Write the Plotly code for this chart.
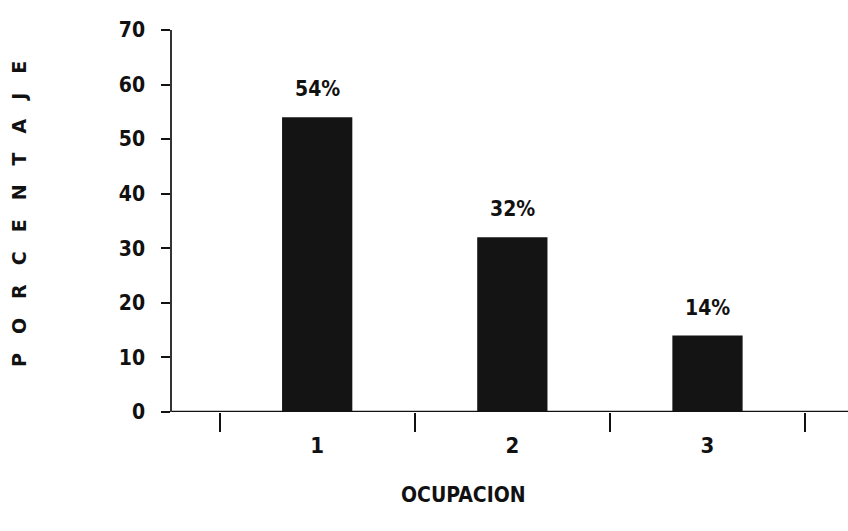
import plotly.graph_objects as go

categories = [1, 2, 3]
category_labels = ["1", "2", "3"]
values = [54, 32, 14]
value_labels = ["54%", "32%", "14%"]
y_ticks = [0, 10, 20, 30, 40, 50, 60, 70]
sep_ticks = [0.5, 1.5, 2.5, 3.5]

FONT = "DejaVu Sans Condensed, Liberation Sans Narrow, DejaVu Sans, sans-serif"

fig = go.Figure()
fig.add_trace(go.Bar(
    x=categories, y=values, width=0.36,
    marker=dict(color="#141414", line=dict(width=0)),
    hoverinfo="skip",
))

annotations = [
    dict(x=c, y=v, xref="x", yref="y", text=t, showarrow=False, yshift=28,
         xanchor="center", yanchor="middle",
         font=dict(family=FONT, size=21, color="#111", weight="bold"))
    for c, v, t in zip(categories, values, value_labels)
]
annotations += [
    dict(text="OCUPACION", xref="paper", yref="paper",
         x=(463 - 172) / 676, y=-(495 - 412) / 382,
         showarrow=False, font=dict(family=FONT, size=21, color="#111", weight="bold"),
         xanchor="center", yanchor="middle"),
    dict(text="\u2003".join("PORCENTAJE"), xref="paper", yref="paper",
         x=-(172 - 19) / 676, y=(412 - 214) / 382, textangle=-90,
         showarrow=False,
         font=dict(family="DejaVu Sans, sans-serif", size=19, color="#111", weight="bold"),
         xanchor="center", yanchor="middle"),
]

fig.update_layout(
    width=848, height=531,
    margin=dict(l=172, r=0, t=30, b=119),
    paper_bgcolor="white", plot_bgcolor="white",
    showlegend=False,
    font=dict(family=FONT, color="#111"),
    xaxis=dict(
        range=[0.256, 3.72], tickmode="array", tickvals=categories,
        ticktext=category_labels, ticks="", showgrid=False, zeroline=False,
        showline=False, tickfont=dict(family=FONT, size=22, color="#111", weight="bold"),
        ticklabelstandoff=18,
        minor=dict(tickmode="array", tickvals=sep_ticks, ticks="outside",
                   ticklen=19, tickwidth=2, tickcolor="#111", showgrid=False),
    ),
    yaxis=dict(
        range=[0, 70], tickmode="array", tickvals=y_ticks,
        ticks="outside", ticklen=9, tickwidth=2, tickcolor="#111",
        showline=True, linecolor="#333", linewidth=1.5,
        showgrid=False, zeroline=False,
        tickfont=dict(family=FONT, size=21, color="#111", weight="bold"),
        ticklabelstandoff=12,
    ),
    annotations=annotations,
    shapes=[
        dict(type="line", xref="x", yref="y", x0=0.2, x1=3.8, y0=0, y1=0,
             line=dict(color="#111", width=2.5), layer="above"),
    ],
)

fig.write_html(
    "out.html",
    config={"displayModeBar": False},
    post_script="document.body.style.margin='0';document.body.style.overflow='hidden';",
)
